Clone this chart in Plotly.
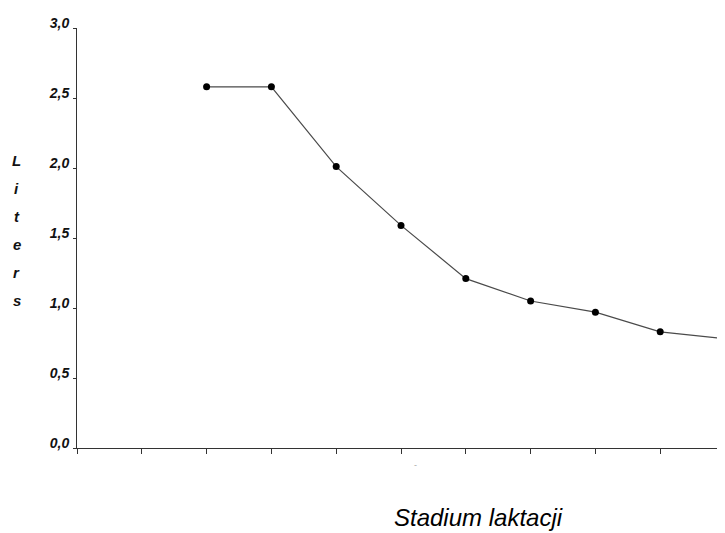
import plotly.graph_objects as go

# Data
stages = [2, 3, 4, 5, 6, 7, 8, 9, 10]
liters = [2.58, 2.58, 2.01, 1.59, 1.21, 1.05, 0.97, 0.83, 0.78]
y_tick_vals = [0.0, 0.5, 1.0, 1.5, 2.0, 2.5, 3.0]
y_tick_text = ["0,0", "0,5", "1,0", "1,5", "2,0", "2,5", "3,0"]
x_tick_vals = [0, 1, 2, 3, 4, 5, 6, 7, 8, 9, 10]
x_title = "Stadium laktacji"
y_title = "Liters"

FONT = "Arial, 'Liberation Sans', sans-serif"

fig = go.Figure()
fig.add_trace(go.Scatter(
    x=stages, y=liters, mode="lines+markers",
    line=dict(color="#4a4a4a", width=1.2),
    marker=dict(color="#000000", size=7),
    showlegend=False,
    cliponaxis=False,
))

fig.update_xaxes(
    range=[0, 10], showgrid=False, zeroline=False,
    showline=True, linecolor="#333333", linewidth=1,
    tickvals=x_tick_vals, ticks="outside", ticklen=5, tickcolor="#333333",
    showticklabels=False,
)
fig.update_yaxes(
    range=[0, 3.0], showgrid=False, zeroline=False,
    showline=True, linecolor="#333333", linewidth=1,
    tickvals=y_tick_vals, ticktext=y_tick_text,
    ticks="outside", ticklen=3, tickcolor="#333333",
    tickfont=dict(family=FONT, size=14, color="#111111", weight="bold", style="italic"),
    ticklabelstandoff=1, ticklabelshift=-5,
)

annotations = []
for i, ch in enumerate(y_title):
    annotations.append(dict(
        text=f"<b><i>{ch}</i></b>", xref="paper", yref="paper",
        x=-0.0926, y=0.685 - i * 0.067, showarrow=False,
        font=dict(family=FONT, size=15, color="#111111"),
        xanchor="center", yanchor="middle",
    ))
annotations.append(dict(
    text=f"<i>{x_title}</i>", xref="paper", yref="paper",
    x=0.619, y=-0.166, showarrow=False,
    font=dict(family=FONT, size=24, color="#000000"),
    xanchor="center", yanchor="middle",
))
annotations.append(dict(
    text="-", xref="paper", yref="paper",
    x=0.522, y=-0.04, showarrow=False,
    font=dict(family=FONT, size=9, color="#aaaaaa"),
    xanchor="center", yanchor="middle",
))

fig.update_layout(
    width=717, height=525,
    margin=dict(l=69, r=0, t=20, b=85),
    plot_bgcolor="white", paper_bgcolor="white",
    annotations=annotations,
)

fig.write_html("out.html")
